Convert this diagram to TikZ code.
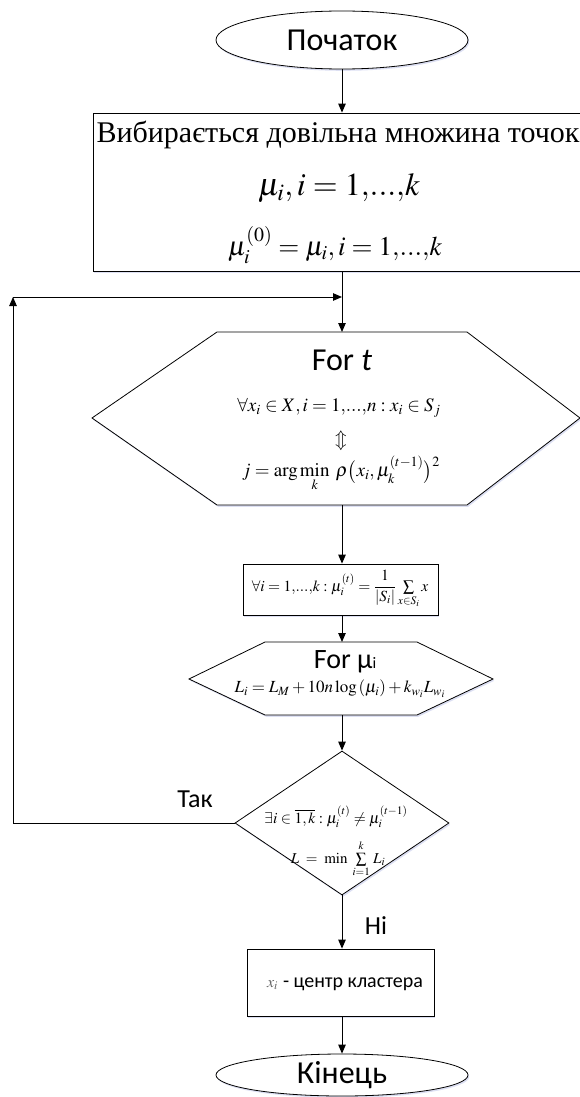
\documentclass[tikz,border=0pt]{standalone}
\usepackage{amsmath}
\usepackage{mathptmx}
\usepackage{fontspec}
\setmainfont{Liberation Serif}
\newfontfamily\carlito{Carlito}
\usetikzlibrary{arrows.meta,shapes.geometric,shadows}

% tight "1,...,k" as set by an equation editor
\newcommand{\rng}[2]{#1{,}...{,}#2}

\tikzset{
  shp/.style={draw=black, line width=0.8pt, fill=white,
    drop shadow={shadow xshift=1.2pt, shadow yshift=-1.8pt, fill=cyan!30!blue!25, opacity=0.55}},
  arr/.style={line width=1pt, -{Triangle[length=9pt,width=7.5pt]}},
  lbl/.style={font=\carlito\fontsize{26}{28}\selectfont, inner sep=0pt},
  term/.style={shp, ellipse, minimum width=252pt, inner sep=0pt,
    font=\carlito\fontsize{32}{34}\selectfont},
  txt/.style={inner sep=0pt, align=center},
}

\begin{document}
\begin{tikzpicture}[x=1pt,y=-1pt]
\useasboundingbox (0,0) rectangle (580,1097);

% start / end terminals
\node[term, minimum height=58pt] (start) at (342,40) {Початок};

% initialisation block
\node[shp, rectangle, minimum width=487pt, minimum height=158pt, inner sep=0pt] (init) at (336.5,192) {};
\node[txt, font=\fontsize{30}{32}\selectfont] (initT) at (338,135) {Вибирається довільна множина точок};
\node[txt, font=\fontsize{32}{34}\selectfont] (initA) at (339,188) {$\mu_i,i=\rng{1}{k}$};
\node[txt, font=\fontsize{27}{29}\selectfont] (initB) at (335,245) {$\mu_i^{(0)}=\mu_i,i=\rng{1}{k}$};

% loop over t
\draw[shp] (217,332) -- (467,332) -- (580,418) -- (467,505) -- (217,505) -- (92,418) -- cycle;
\coordinate (h1top) at (342,332);
\coordinate (h1bot) at (342,505);
\node[txt, font=\carlito\fontsize{32}{34}\selectfont] (forT) at (342,360) {For \textit{t}};
\node[txt, font=\fontsize{19}{21}\selectfont] (assign1) at (339,408) {$\forall x_i\in X,i=\rng{1}{n}:x_i\in S_j$};
\node[txt, font=\fontsize{19}{21}\selectfont] (equiv) at (341,441) {$\Updownarrow$};
\node[txt, font=\fontsize{19}{21}\selectfont] (assign2) at (341,474) {$j=\arg\min\limits_k\;\rho\bigl(x_i,\mu_k^{(t-1)}\bigr)^2$};

% centroid update
\node[shp, rectangle, minimum width=195pt, minimum height=51pt, inner sep=0pt] (upd) at (340.5,589.5) {};
\node[txt, font=\fontsize{15.5}{17}\selectfont] (updT) at (340,589) {$\forall i=\rng{1}{k}:\mu_i^{(t)}=\dfrac{1}{|S_i|}\sum\limits_{x\in S_i}x$};

% loop over mu_i
\draw[shp] (265,642) -- (417,642) -- (493,679) -- (417,715) -- (265,715) -- (189,679) -- cycle;
\coordinate (h2top) at (342,642);
\coordinate (h2bot) at (342,715);
\node[txt, font=\carlito\fontsize{28}{30}\selectfont] (forMu) at (345,662) {For μ{\fontsize{16}{18}\selectfont i}};
\node[txt, font=\fontsize{17}{19}\selectfont] (likeT) at (340,689) {$L_i=L_M+10n\log\left(\mu_i\right)+k_{w_i}L_{w_i}$};

% stopping test
\node[shp, diamond, minimum width=214pt, minimum height=144pt, inner sep=0pt] (dec) at (342,823) {};
\node[txt, font=\fontsize{15.5}{17}\selectfont] (decA) at (336,817) {$\exists i\in\overline{1,k}:\mu_i^{(t)}\neq\mu_i^{(t-1)}$};
\node[txt, font=\fontsize{15}{17}\selectfont] (decB) at (338,859) {$L\;=\;\min\;\sum\limits_{i=1}^{k}\,L_i$};

% result
\node[shp, rectangle, minimum width=187pt, minimum height=67pt, inner sep=0pt] (res) at (340.5,982.5) {};
\node[txt] (resT) at (345,984) {{\fontsize{16}{18}\selectfont\color{black!60}$x_i$}\ \ {\carlito\fontsize{20}{22}\selectfont - центр кластера}};

\node[term, minimum height=42pt] (end) at (342,1075) {Кінець};

% branch labels
\node[lbl] (yes) at (195,799) {Так};
\node[lbl] (no) at (376,926) {Ні};

% connectors
\coordinate (loopc) at (13,297);
\coordinate (join) at (342,297);
\draw[arr] (start.south) -- (init.north -| start.south);
\draw[arr] (init.south -| h1top) -- (h1top);
\draw[arr] (dec.west) -| (loopc);
\draw[arr] (loopc) -- (join);
\draw[arr] (h1bot) -- (upd.north -| h1bot);
\draw[arr] (upd.south -| h2top) -- (h2top);
\draw[arr] (h2bot) -- (dec.north);
\draw[arr] (dec.south) -- (res.north -| dec.south);
\draw[arr] (res.south -| end.north) -- (end.north);
\end{tikzpicture}
\end{document}
